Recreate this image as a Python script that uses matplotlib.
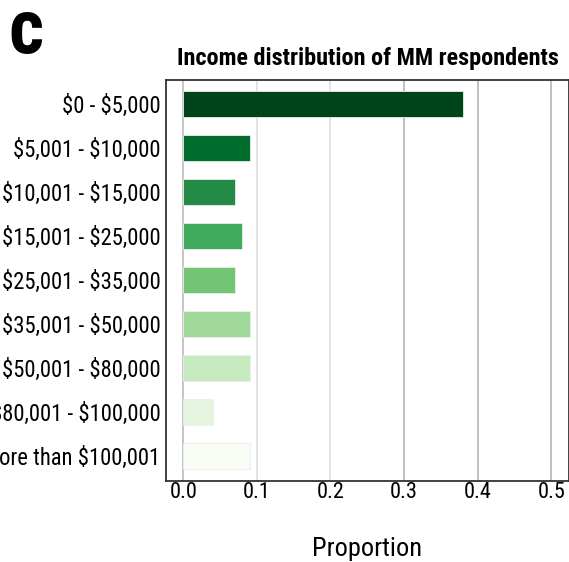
import matplotlib
matplotlib.use("Agg")
from matplotlib import pyplot as plt
from matplotlib import font_manager

# 数据
income_groups = ["$0 - $5,000", "$5,001 - $10,000", "$10,001 - $15,000",
                 "$15,001 - $25,000", "$25,001 - $35,000", "$35,001 - $50,000",
                 "$50,001 - $80,000", "$80,001 - $100,000", "More than $100,001"]
proportions = [0.38, 0.09, 0.07, 0.08, 0.07, 0.09, 0.09, 0.04, 0.09]
bar_colors = ["#00441b", "#006d2c", "#238b45", "#41ab5d", "#74c476",
              "#a1d99b", "#c7e9c0", "#e5f5e0", "#f7fcf5"]
x_ticks = [0.0, 0.1, 0.2, 0.3, 0.4, 0.5]


# 选择一个窄体字体
def pick_font():
    names = {f.name for f in font_manager.fontManager.ttflist}
    for name in ["Roboto Condensed", "Liberation Sans Narrow", "Roboto"]:
        if name in names:
            return name
    return "DejaVu Sans"


font = pick_font()
plt.rcParams['font.family'] = [font, 'DejaVu Sans']
plt.rcParams['text.parse_math'] = False

fig = plt.figure(figsize=(5.69, 5.62), dpi=100)
ax = fig.add_axes([0.2917, 0.1441, 0.7083, 0.7135])

# 网格线
grid_colors = ["#bbbbbb", "#dddddd", "#dddddd", "#b5b5b5", "#b5b5b5", "#b5b5b5"]
for xt, gc in zip(x_ticks, grid_colors):
    ax.axvline(xt, color=gc, lw=1.2, zorder=0)

ypos = list(range(len(income_groups)))
ax.barh(ypos, proportions, height=0.6, color=bar_colors,
        edgecolor="#e8f0e8", linewidth=0.6, zorder=2)

ax.set_xlim(-0.0235, 0.524)
ax.set_ylim(8.57, -0.545)
ax.set_yticks(ypos)
ax.set_yticklabels(income_groups, fontsize=16.3)
ax.set_xticks(x_ticks)
ax.set_xticklabels([f"{v:.1f}" for v in x_ticks], fontsize=16)
ax.tick_params(axis='both', length=0, colors='black')
ax.tick_params(axis='x', pad=1)
ax.tick_params(axis='y', pad=4)

for s in ax.spines.values():
    s.set_color("#333333")
    s.set_linewidth(1.3)

ax.set_xlabel("Proportion", fontsize=19, labelpad=24)
ax.set_title("Income distribution of MM respondents", fontsize=17.4,
             fontweight='bold', pad=11)

fig.text(0.014, 0.905, "c", fontsize=55, fontweight='bold')

fig.savefig("out.png", dpi=100)
